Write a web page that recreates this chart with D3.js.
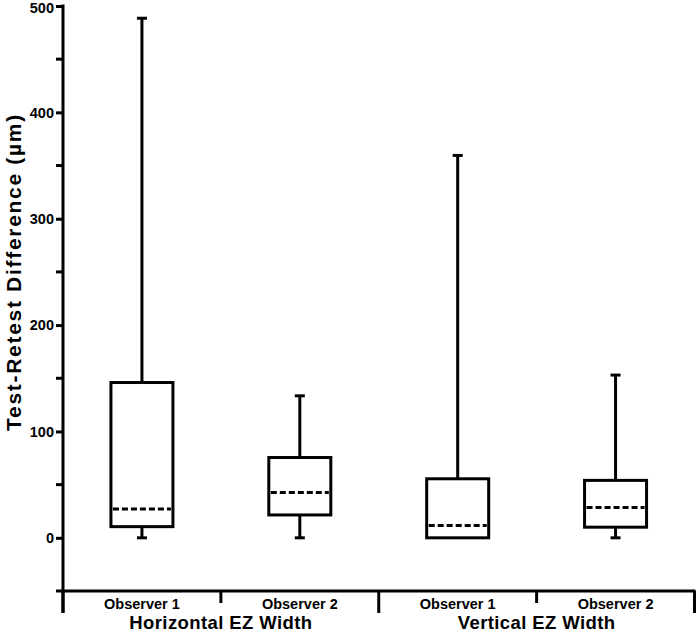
<!DOCTYPE html>
<html><head><meta charset="utf-8">
<script src="https://cdn.jsdelivr.net/npm/d3@7"></script>
<style>body{margin:0;background:#fff}svg{display:block}text{font-family:"Liberation Sans",Arial,sans-serif;font-weight:bold;fill:#000}</style>
</head><body>
<script>
const groups = ["Horizontal EZ Width", "Vertical EZ Width"];
const observers = ["Observer 1", "Observer 2"];
const minVals = [0, 0, 0, 0];
const q1Vals = [10.5, 21.5, 0, 10];
const medianVals = [27, 42.5, 11.5, 28.5];
const q3Vals = [146, 75.5, 55.5, 54];
const maxVals = [488.5, 133.5, 359.5, 153];
const yTicks = [0, 100, 200, 300, 400, 500];
const yMinorTicks = [-50, 50, 150, 250, 350, 450];

const W = 696, H = 633;
const svg = d3.select("body").append("svg").attr("width", W).attr("height", H);
const left = 63, right = 694.5;
const y = d3.scaleLinear().domain([-50, 500]).range([591, 6]);
const cats = [];
groups.forEach(g => observers.forEach(o => cats.push(g + "|" + o)));
const x = d3.scaleBand().domain(cats).range([left, right]).padding(0);

// y axis
const yAxis = d3.axisLeft(y).tickValues(yTicks).tickSize(7).tickPadding(2).tickFormat(d3.format("d"));
const gy = svg.append("g").attr("transform", `translate(${left},0)`).call(yAxis);
gy.select(".domain").remove();
gy.selectAll(".tick line").attr("stroke", "#000").attr("stroke-width", 3);
gy.selectAll(".tick text").style("font-size", "14.5px");
gy.selectAll(".tick").filter(d => d === 500).select("text").attr("dy", "0.42em");
svg.append("g").selectAll("line").data(yMinorTicks).join("line")
  .attr("x1", left - 7).attr("x2", left).attr("y1", d => y(d)).attr("y2", d => y(d))
  .attr("stroke", "#000").attr("stroke-width", 3);
svg.append("line").attr("x1", left).attr("x2", left).attr("y1", y(500) - 1.5).attr("y2", 613)
  .attr("stroke", "#000").attr("stroke-width", 3);

// x axis
svg.append("line").attr("x1", left).attr("x2", right + 1).attr("y1", y(-50)).attr("y2", y(-50))
  .attr("stroke", "#000").attr("stroke-width", 3);
const bounds = [left, x(cats[1]), x(cats[2]), x(cats[3]), right];
bounds.forEach((b, i) => {
  const major = i % 2 === 0;
  svg.append("line").attr("x1", b).attr("x2", b).attr("y1", y(-50)).attr("y2", major ? 613 : 603)
    .attr("stroke", "#000").attr("stroke-width", 3);
});
svg.append("g").selectAll("text").data(cats).join("text")
  .attr("x", d => x(d) + x.bandwidth() / 2).attr("y", 609)
  .attr("text-anchor", "middle").style("font-size", "14.5px")
  .text(d => d.split("|")[1]);
svg.append("g").selectAll("text").data(groups).join("text")
  .attr("x", (d, i) => x(cats[i * 2]) + x.bandwidth()).attr("y", 629)
  .attr("text-anchor", "middle").style("font-size", "18.5px").style("letter-spacing", "0.4px")
  .text(d => d);

// y title
svg.append("text").attr("transform", `translate(21,272) rotate(-90)`)
  .attr("text-anchor", "middle").style("font-size", "21px").style("letter-spacing", "1.7px")
  .text("Test-Retest Difference (µm)");

// boxes
const bw = 62, cap = 10;
const g = svg.append("g");
cats.forEach((c, i) => {
  const cx = x(c) + x.bandwidth() / 2;
  const sw = 3;
  if (maxVals[i] > q3Vals[i]) {
    g.append("line").attr("x1", cx).attr("x2", cx).attr("y1", y(q3Vals[i])).attr("y2", y(maxVals[i])).attr("stroke", "#000").attr("stroke-width", sw);
    g.append("line").attr("x1", cx - cap / 2).attr("x2", cx + cap / 2).attr("y1", y(maxVals[i])).attr("y2", y(maxVals[i])).attr("stroke", "#000").attr("stroke-width", sw);
  }
  if (minVals[i] < q1Vals[i]) {
    g.append("line").attr("x1", cx).attr("x2", cx).attr("y1", y(q1Vals[i])).attr("y2", y(minVals[i])).attr("stroke", "#000").attr("stroke-width", sw);
    g.append("line").attr("x1", cx - cap / 2).attr("x2", cx + cap / 2).attr("y1", y(minVals[i])).attr("y2", y(minVals[i])).attr("stroke", "#000").attr("stroke-width", sw);
  }
  g.append("rect").attr("x", cx - bw / 2).attr("width", bw)
    .attr("y", y(q3Vals[i])).attr("height", y(q1Vals[i]) - y(q3Vals[i]))
    .attr("fill", "#fff").attr("stroke", "#000").attr("stroke-width", sw);
  g.append("line").attr("x1", cx - bw / 2 + 2).attr("x2", cx + bw / 2 - 2)
    .attr("y1", y(medianVals[i])).attr("y2", y(medianVals[i]))
    .attr("stroke", "#000").attr("stroke-width", sw).attr("stroke-dasharray", "6,3");
});
</script>
</body></html>
